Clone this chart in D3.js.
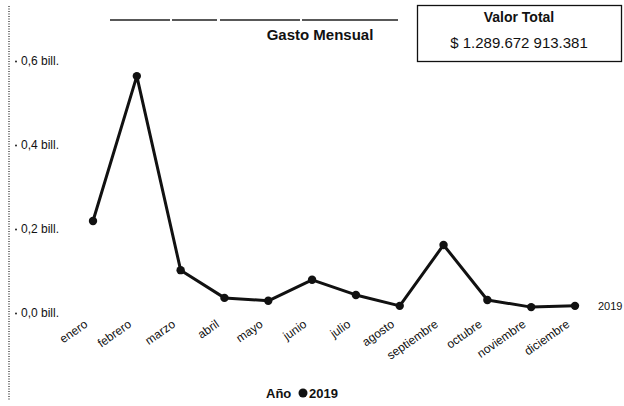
<!DOCTYPE html>
<html>
<head>
<meta charset="utf-8">
<script src="https://cdn.jsdelivr.net/npm/d3@7"></script>
<style>
  body { margin: 0; background: #fff; }
  svg { display: block; font-family: "Liberation Sans Narrow", "Liberation Sans", Arial, sans-serif; }
</style>
</head>
<body>
<svg id="chart" width="624" height="406"></svg>
<script>
// monthly spend, in billones
const months = ["enero", "febrero", "marzo", "abril", "mayo", "junio", "julio", "agosto", "septiembre", "octubre", "noviembre", "diciembre"];
const values = [0.219, 0.564, 0.102, 0.036, 0.029, 0.079, 0.043, 0.017, 0.162, 0.031, 0.014, 0.017];
const yTicks = [0, 0.2, 0.4, 0.6];
const seriesName = "2019";
const totalLabel = "$ 1.289.672 913.381";

const svg = d3.select("#chart");

const x = d3.scalePoint().domain(months).range([93, 575]);
const y = d3.scaleLinear().domain([0, 0.6]).range([313, 61]);

// scanned page border bits
svg.append("line").attr("x1", 9).attr("x2", 9).attr("y1", 6).attr("y2", 400)
  .attr("stroke", "#333").attr("stroke-width", 1.3).attr("stroke-dasharray", "1,1.5");
svg.append("line").attr("x1", 110).attr("x2", 398).attr("y1", 20).attr("y2", 20)
  .attr("stroke", "#222").attr("stroke-width", 1.3).attr("stroke-dasharray", "60,2,45,3,80,2,96,2");

// title
svg.append("text").attr("x", 320).attr("y", 40).attr("text-anchor", "middle")
  .attr("font-size", 15).attr("font-weight", "bold").attr("fill", "#111")
  .text("Gasto Mensual");

// total box
const box = svg.append("g");
box.append("rect").attr("x", 417.5).attr("y", 5.5).attr("width", 204).attr("height", 56)
  .attr("fill", "#fff").attr("stroke", "#111").attr("stroke-width", 1.3);
box.append("text").attr("x", 519).attr("y", 22).attr("text-anchor", "middle")
  .attr("font-size", 14).attr("font-weight", "bold").attr("fill", "#111").text("Valor Total");
box.append("text").attr("x", 519).attr("y", 48).attr("text-anchor", "middle")
  .attr("font-family", "Liberation Sans, Arial, sans-serif")
  .attr("font-size", 15).attr("fill", "#111").text(totalLabel);

// y axis
const yAxis = svg.append("g").attr("transform", "translate(16,0)")
  .call(d3.axisRight(y).tickValues(yTicks).tickSize(0).tickPadding(5)
    .tickFormat(d => d3.format(".1f")(d).replace(".", ",") + " bill."));
yAxis.select(".domain").remove();
yAxis.selectAll("text").attr("font-size", 12).attr("fill", "#111")
  .attr("font-family", "Liberation Sans, Arial, sans-serif");
yAxis.selectAll(".tick").append("circle").attr("cx", 0).attr("r", 1).attr("fill", "#222");

// x axis
const xAxis = svg.append("g").attr("transform", "translate(0,320)")
  .call(d3.axisBottom(x).tickSize(0).tickPadding(0));
xAxis.select(".domain").remove();
xAxis.selectAll("text")
  .attr("font-size", 12).attr("fill", "#111")
  .attr("text-anchor", "end")
  .attr("dy", 0)
  .attr("transform", "translate(-5,6) rotate(-35)");

// line
const line = d3.line().x((d, i) => x(months[i])).y(d => y(d));
svg.append("path").datum(values).attr("d", line)
  .attr("fill", "none").attr("stroke", "#111").attr("stroke-width", 3)
  .attr("stroke-linejoin", "round");
svg.selectAll(".pt").data(values).join("circle").attr("class", "pt")
  .attr("cx", (d, i) => x(months[i])).attr("cy", d => y(d)).attr("r", 4.2)
  .attr("fill", "#111");

// series end label
svg.append("text").attr("x", x(months[11]) + 23).attr("y", y(values[11]) + 4)
  .attr("font-size", 11).attr("fill", "#111").text(seriesName);

// legend
const lg = svg.append("g").attr("transform", "translate(266,398)");
lg.append("text").attr("x", 0).attr("y", 0).attr("font-size", 13).attr("font-weight", "bold")
  .attr("fill", "#111").text("Año");
lg.append("circle").attr("cx", 37).attr("cy", -5).attr("r", 4.5).attr("fill", "#111");
lg.append("text").attr("x", 43).attr("y", 0).attr("font-size", 13).attr("font-weight", "bold")
  .attr("fill", "#111").text(seriesName);
</script>
</body>
</html>
